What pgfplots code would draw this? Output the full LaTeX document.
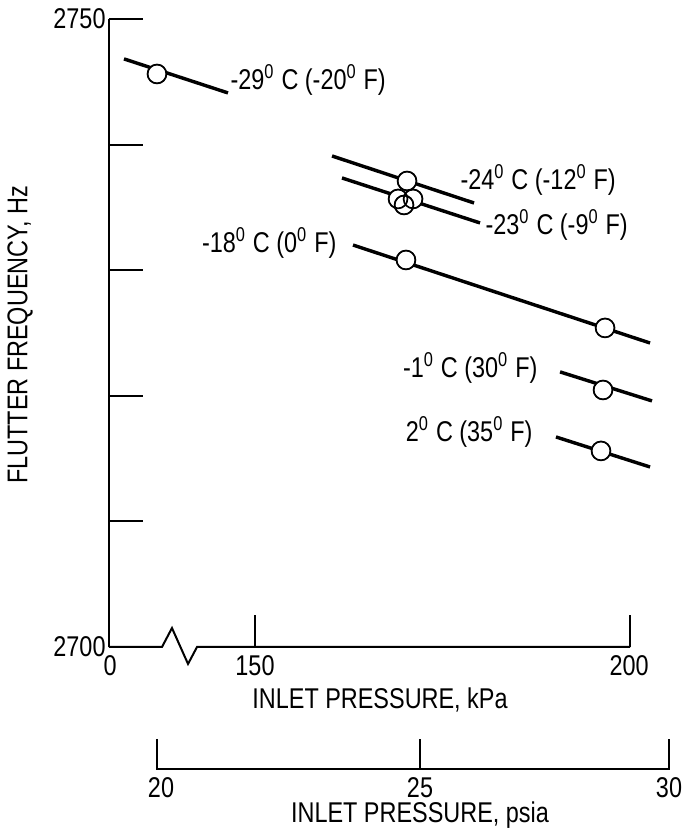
\documentclass[border=0pt]{standalone}
\usepackage{fontspec}
\setmainfont{Liberation Sans}[FakeStretch=0.82]
\usepackage{pgfplots}
\usepackage{pgfplotstable}
\pgfplotsset{compat=1.18}

% measured points (x in kPa on the broken axis, y in Hz)
\pgfplotstableread{
x y
136.93 2745.62
170.27 2737.10
169.07 2735.67
171.07 2735.67
169.87 2735.19
170.13 2730.81
196.67 2725.40
196.40 2720.46
196.13 2715.61
}\points

\newcommand\dg{\textsuperscript{0}}

\begin{document}
\begin{tikzpicture}[font=\fontsize{10}{12}\selectfont]
\begin{axis}[
  x=2.625pt, y=4.396pt,
  xmin=130.53, xmax=202.93,
  ymin=2700, ymax=2750,
  axis x line=none,
  axis y line*=left,
  y axis line style={-, line width=0.7pt},
  ytick={2700,2710,...,2750},
  yticklabels={2700,,,,,2750},
  yticklabel style={inner sep=1pt},
  tick align=inside,
  major tick length=11.9pt,
  tick style={line width=0.7pt, black},
  clip=false,
]
  % fitted lines
  \addplot[line width=1.2pt] coordinates {(132.53,2746.82) (146.40,2744.11)};
  \addplot[line width=1.2pt] coordinates {(160.27,2739.09) (179.20,2735.35)};
  \addplot[line width=1.2pt] coordinates {(161.60,2737.34) (180.00,2733.76)};
  \addplot[line width=1.2pt] coordinates {(163.07,2732.00) (202.67,2724.20)};
  \addplot[line width=1.2pt] coordinates {(190.67,2721.90) (202.93,2719.59)};
  \addplot[line width=1.2pt] coordinates {(190.13,2716.72) (202.67,2714.33)};

  % circles: white fill first, then outlines
  \addplot[only marks, mark=*, mark size=3.3pt,
    mark options={draw=none, fill=white}] table[x=x, y=y] {\points};
  \addplot[only marks, mark=o, mark size=3.3pt,
    mark options={line width=0.6pt, black}] table[x=x, y=y] {\points};

  % curve labels
  \begin{scope}[every node/.style={inner sep=0pt}]
  \node[anchor=west] at (axis cs:146.67,2745.14) {-29\dg{} C (-20\dg{} F)};
  \node[anchor=west] at (axis cs:177.33,2737.18) {-24\dg{} C (-12\dg{} F)};
  \node[anchor=west] at (axis cs:180.67,2733.60) {-23\dg{} C (-9\dg{} F)};
  \node[anchor=east] at (axis cs:160.93,2732.17) {-18\dg{} C (0\dg{} F)};
  \node[anchor=east] at (axis cs:187.73,2722.21) {-1\dg{} C (30\dg{} F)};
  \node[anchor=east] at (axis cs:187.07,2717.12) {2\dg{} C (35\dg{} F)};
  \end{scope}

  % broken kPa axis
  \draw[line width=0.7pt] (axis cs:130.53,2700) -- (axis cs:137.60,2700)
    -- (axis cs:138.93,2701.51) -- (axis cs:141.07,2698.65)
    -- (axis cs:142.27,2700) -- (axis cs:200,2700);
  \draw[line width=0.7pt] (axis cs:150,2700) -- (axis cs:150,2702.55);
  \draw[line width=0.7pt] (axis cs:200,2700) -- (axis cs:200,2702.55);
  \node at (axis cs:130.67,2698.49) {0};
  \node at (axis cs:150,2698.49) {150};
  \node at (axis cs:199.87,2698.49) {200};
  \node at (axis cs:166.67,2695.78) {INLET PRESSURE, kPa};

  % psia scale
  \draw[line width=0.7pt] (axis cs:136.93,2692.68) -- (axis cs:136.93,2690.29)
    -- (axis cs:205.20,2690.29) -- (axis cs:205.20,2692.68);
  \draw[line width=0.7pt] (axis cs:172.0,2690.29) -- (axis cs:172.0,2692.68);
  \node at (axis cs:137.47,2688.77) {20};
  \node at (axis cs:172.0,2688.77) {25};
  \node at (axis cs:205.20,2688.77) {30};
  \node at (axis cs:172.0,2686.62) {INLET PRESSURE, psia};

  % y label
  \node[rotate=90] at (axis cs:118.67,2724.84) {FLUTTER FREQUENCY, Hz};

  \coordinate (bbA) at (axis cs:116.0,2685.19);
  \coordinate (bbB) at (axis cs:207.33,2751.51);
\end{axis}
\pgfresetboundingbox
\path[use as bounding box] (bbA) rectangle (bbB);
\end{tikzpicture}
\end{document}
